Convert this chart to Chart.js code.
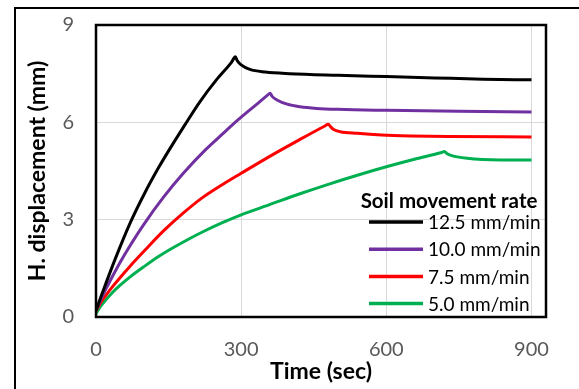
<!DOCTYPE html>
<html>
<head>
<meta charset="utf-8">
<script src="https://cdn.jsdelivr.net/npm/chart.js@4.4.1/dist/chart.umd.min.js"></script>
<style>
    html, body { margin: 0; padding: 0; background: #fff; }
    #wrap { position: relative; width: 579px; height: 389px; }
</style>
</head>
<body>
<div id="wrap"><canvas id="dispChart" width="579" height="389"></canvas></div>
<script>
// series: time (sec) -> H. displacement (mm)
const seriesLabels = ['12.5 mm/min', '10.0 mm/min', '7.5 mm/min', '5.0 mm/min'];
const seriesColors = ['#000000', '#7030A0', '#FF0000', '#00B050'];

const time125 = [0, 10, 20, 40, 70, 100, 130, 150, 184, 215, 250, 280, 288, 292, 300, 318, 350, 400, 500, 600, 700, 800, 900];
const disp125 = [0.2, 0.62, 1.02, 1.8, 2.88, 3.8, 4.62, 5.12, 5.93, 6.64, 7.33, 7.85, 8.02, 7.9, 7.77, 7.63, 7.55, 7.5, 7.45, 7.41, 7.37, 7.33, 7.31];

const time100 = [0, 10, 20, 35, 50, 70, 100, 140, 180, 226, 260, 294, 330, 354, 360, 364, 374, 395, 422, 456, 500, 600, 750, 900];
const disp100 = [0.2, 0.54, 0.85, 1.28, 1.69, 2.19, 2.88, 3.7, 4.42, 5.15, 5.62, 6.08, 6.53, 6.83, 6.9, 6.8, 6.69, 6.56, 6.48, 6.43, 6.4, 6.37, 6.34, 6.32];

const time75 = [0, 10, 20, 35, 50, 70, 100, 140, 180, 220, 260, 300, 360, 420, 472, 480, 485, 491, 505, 540, 590, 650, 730, 900];
const disp75 = [0.18, 0.45, 0.66, 0.95, 1.22, 1.56, 2.04, 2.66, 3.2, 3.68, 4.07, 4.43, 4.96, 5.46, 5.88, 5.94, 5.86, 5.78, 5.71, 5.66, 5.61, 5.58, 5.56, 5.55];

const time50 = [0, 10, 20, 35, 50, 70, 100, 130, 160, 190, 220, 260, 300, 360, 420, 480, 540, 600, 660, 714, 720, 725, 732, 767, 836, 900];
const disp50 = [0.1, 0.34, 0.52, 0.77, 0.98, 1.23, 1.56, 1.87, 2.14, 2.39, 2.62, 2.9, 3.15, 3.47, 3.79, 4.09, 4.37, 4.63, 4.87, 5.07, 5.1, 5.04, 4.99, 4.89, 4.84, 4.84];

const seriesTimes = [time125, time100, time75, time50];
const seriesDisps = [disp125, disp100, disp75, disp50];

const xTicks = [0, 300, 600, 900];
const yTicks = [0, 3, 6, 9];

const FONT = 'Lato, "Open Sans", sans-serif';

// outer figure frame (runs off the right and bottom edge)
const outerFrame = {
    id: 'outerFrame',
    beforeDraw(chart) {
        const { ctx, width, height } = chart;
        ctx.save();
        ctx.strokeStyle = '#000';
        ctx.lineWidth = 2;
        ctx.beginPath();
        ctx.moveTo(15, height + 2);
        ctx.lineTo(15, 8);
        ctx.lineTo(width + 2, 8);
        ctx.stroke();
        ctx.restore();
    }
};

// black box round the plot area
const plotFrame = {
    id: 'plotFrame',
    afterDatasetsDraw(chart) {
        const { ctx, chartArea: a } = chart;
        ctx.save();
        ctx.strokeStyle = '#000';
        ctx.lineWidth = 2.5;
        ctx.strokeRect(a.left, a.top, a.right - a.left, a.bottom - a.top);
        ctx.restore();
    }
};

// legend with title, sitting inside the plot at the lower right
const insideLegend = {
    id: 'insideLegend',
    afterDraw(chart) {
        const { ctx, chartArea: a } = chart;
        ctx.save();
        ctx.fillStyle = '#000';
        ctx.textBaseline = 'middle';
        ctx.textAlign = 'center';
        ctx.font = 'bold 20.5px ' + FONT;
        ctx.fillText('Soil movement rate', a.right - 97, a.bottom - 116);

        ctx.textAlign = 'left';
        ctx.font = '19px ' + FONT;
        chart.data.datasets.forEach((ds, i) => {
            const y = a.bottom - 95 + i * 27.2;
            ctx.strokeStyle = ds.borderColor;
            ctx.lineWidth = 3.5;
            ctx.beginPath();
            ctx.moveTo(a.right - 177, y);
            ctx.lineTo(a.right - 123, y);
            ctx.stroke();
            ctx.fillText(ds.label, a.right - 118, y + 1);
        });
        ctx.restore();
    }
};

const datasets = seriesLabels.map((label, i) => ({
    label,
    data: seriesTimes[i].map((t, j) => ({ x: t, y: seriesDisps[i][j] })),
    borderColor: seriesColors[i],
    backgroundColor: seriesColors[i],
    borderWidth: 3,
    borderJoinStyle: 'round',
    pointRadius: 0,
    showLine: true,
    cubicInterpolationMode: 'monotone',
    fill: false
}));

new Chart(document.getElementById('dispChart'), {
    type: 'scatter',
    data: { datasets },
    options: {
        responsive: false,
        animation: false,
        devicePixelRatio: 1,
        layout: { padding: { left: 0, top: 25, right: 33, bottom: 0 } },
        plugins: {
            legend: { display: false },
            tooltip: { enabled: false }
        },
        scales: {
            x: {
                type: 'linear',
                min: 0,
                max: 930,
                afterBuildTicks: (scale) => { scale.ticks = xTicks.map(v => ({ value: v })); },
                afterFit: (scale) => { scale.height = 72; },
                border: { display: false },
                grid: { color: '#d9d9d9', lineWidth: 1, drawTicks: false },
                ticks: {
                    color: '#595959',
                    padding: 21,
                    maxRotation: 0,
                    font: { family: FONT, size: 20 }
                },
                title: {
                    display: true,
                    text: 'Time (sec)',
                    color: '#000',
                    padding: { top: 0, bottom: 4 },
                    font: { family: FONT, size: 23, weight: 'bold' }
                }
            },
            y: {
                type: 'linear',
                min: 0,
                max: 9,
                afterBuildTicks: (scale) => { scale.ticks = yTicks.map(v => ({ value: v })); },
                afterFit: (scale) => {
                    // tick padding gets added to the top padding otherwise
                    scale.width = 96;
                    scale.paddingTop = 0;
                    scale.paddingBottom = 0;
                },
                border: { display: false },
                grid: { color: '#d9d9d9', lineWidth: 1, drawTicks: false },
                ticks: {
                    color: '#595959',
                    padding: 22,
                    font: { family: FONT, size: 20 }
                },
                title: {
                    display: true,
                    text: 'H. displacement (mm)',
                    color: '#000',
                    padding: { top: 24, bottom: 0 },
                    font: { family: FONT, size: 23, weight: 'bold' }
                }
            }
        }
    },
    plugins: [outerFrame, plotFrame, insideLegend]
});
</script>
</body>
</html>
